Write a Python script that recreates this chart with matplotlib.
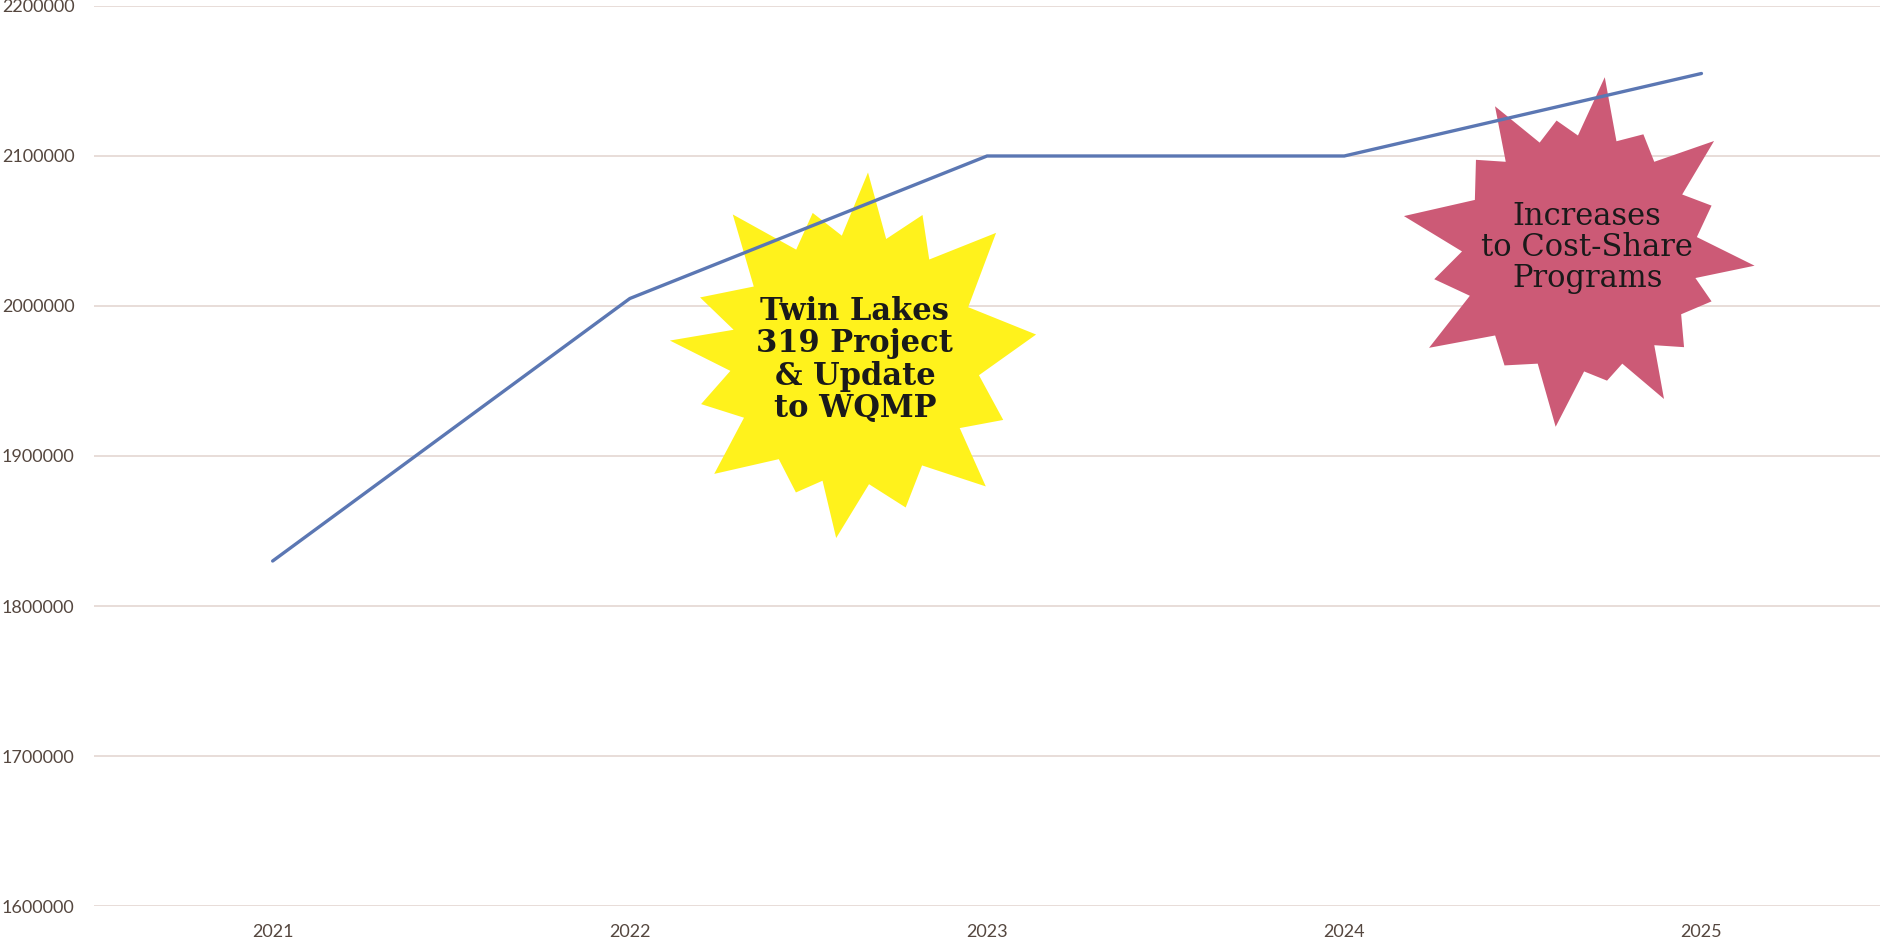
import numpy as np
import matplotlib
matplotlib.use('Agg')
import matplotlib.pyplot as plt
import matplotlib.transforms as mtransforms
from matplotlib.patches import Polygon

# Datos
years = ['2021', '2022', '2023', '2024', '2025']
budget = [1830000, 2005000, 2100000, 2100000, 2155000]
y_ticks = [1600000, 1700000, 1800000, 1900000, 2000000, 2100000, 2200000]

label_twin = 'Twin Lakes\n319 Project\n& Update\nto WQMP'
label_cost = 'Increases\nto Cost-Share\nPrograms'

fig = plt.figure(figsize=(19, 9.5), dpi=100)
ax = fig.add_axes([0.0495, 0.0463, 0.94, 0.9474])

x = np.arange(len(years))
ax.plot(x, budget, color='#5b77b3', linewidth=2.4, zorder=4, solid_capstyle='round')

ax.set_xlim(-0.5, len(years) - 0.5)
ax.set_ylim(1600000, 2200000)
ax.set_xticks(x)
ax.set_xticklabels(years)
ax.set_yticks(y_ticks)
ax.set_yticklabels([str(v) for v in y_ticks])
ax.tick_params(axis='both', length=0, labelsize=13, labelcolor='#55473f')
ax.tick_params(axis='x', pad=13)
ax.tick_params(axis='y', pad=14)
for lbl in ax.get_xticklabels() + ax.get_yticklabels():
    lbl.set_fontfamily('Lato')
ax.grid(axis='y', color='#e6dad6', linewidth=1.3, zorder=0)
ax.set_axisbelow(True)
for s in ax.spines.values():
    s.set_visible(False)


def estrella(cx, cy, angulos, radios, r_int, color):
    # forma de estrella irregular en pixeles alrededor de un punto de datos
    pts = []
    n = len(angulos)
    for i in range(n):
        a = np.radians(angulos[i])
        pts.append((radios[i] * np.cos(a), radios[i] * np.sin(a)))
        a2 = angulos[(i + 1) % n]
        if (i + 1) % n == 0:
            a2 += 360
        am = np.radians((angulos[i] + a2) / 2)
        pts.append((r_int * np.cos(am), r_int * np.sin(am)))
    tr = mtransforms.Affine2D() + mtransforms.ScaledTranslation(cx, cy, ax.transData)
    ax.add_patch(Polygon(pts, closed=True, facecolor=color, edgecolor='none',
                         transform=tr, zorder=3, clip_on=False))


estrella(1.63, 1964000,
         [8, 42, 65, 86, 106, 130, 158, 174, 196, 219, 246, 264, 289, 316, 338],
         [183, 190, 160, 188, 153, 190, 167, 186, 160, 181, 145, 179, 156, 182, 160],
         125, '#fff21c')
estrella(3.66, 2035000,
         [-4, 20, 40, 62, 82, 100, 120, 138, 168, 190, 212, 236, 262, 282, 300, 318, 340],
         [175, 140, 175, 135, 178, 135, 170, 140, 180, 148, 178, 135, 175, 130, 168, 140, 140],
         118, '#cc5a76')

ax.text(1.63, 1964000, label_twin, ha='center', va='center', fontsize=22,
        fontweight='bold', family='DejaVu Serif', color='#1a1a1a',
        linespacing=1.05, zorder=5)
ax.text(3.68, 2039000, label_cost, ha='center', va='center', fontsize=22,
        family='DejaVu Serif', color='#1a1a1a', linespacing=1.0, zorder=5)

fig.savefig('out.png', dpi=100, facecolor='white')
